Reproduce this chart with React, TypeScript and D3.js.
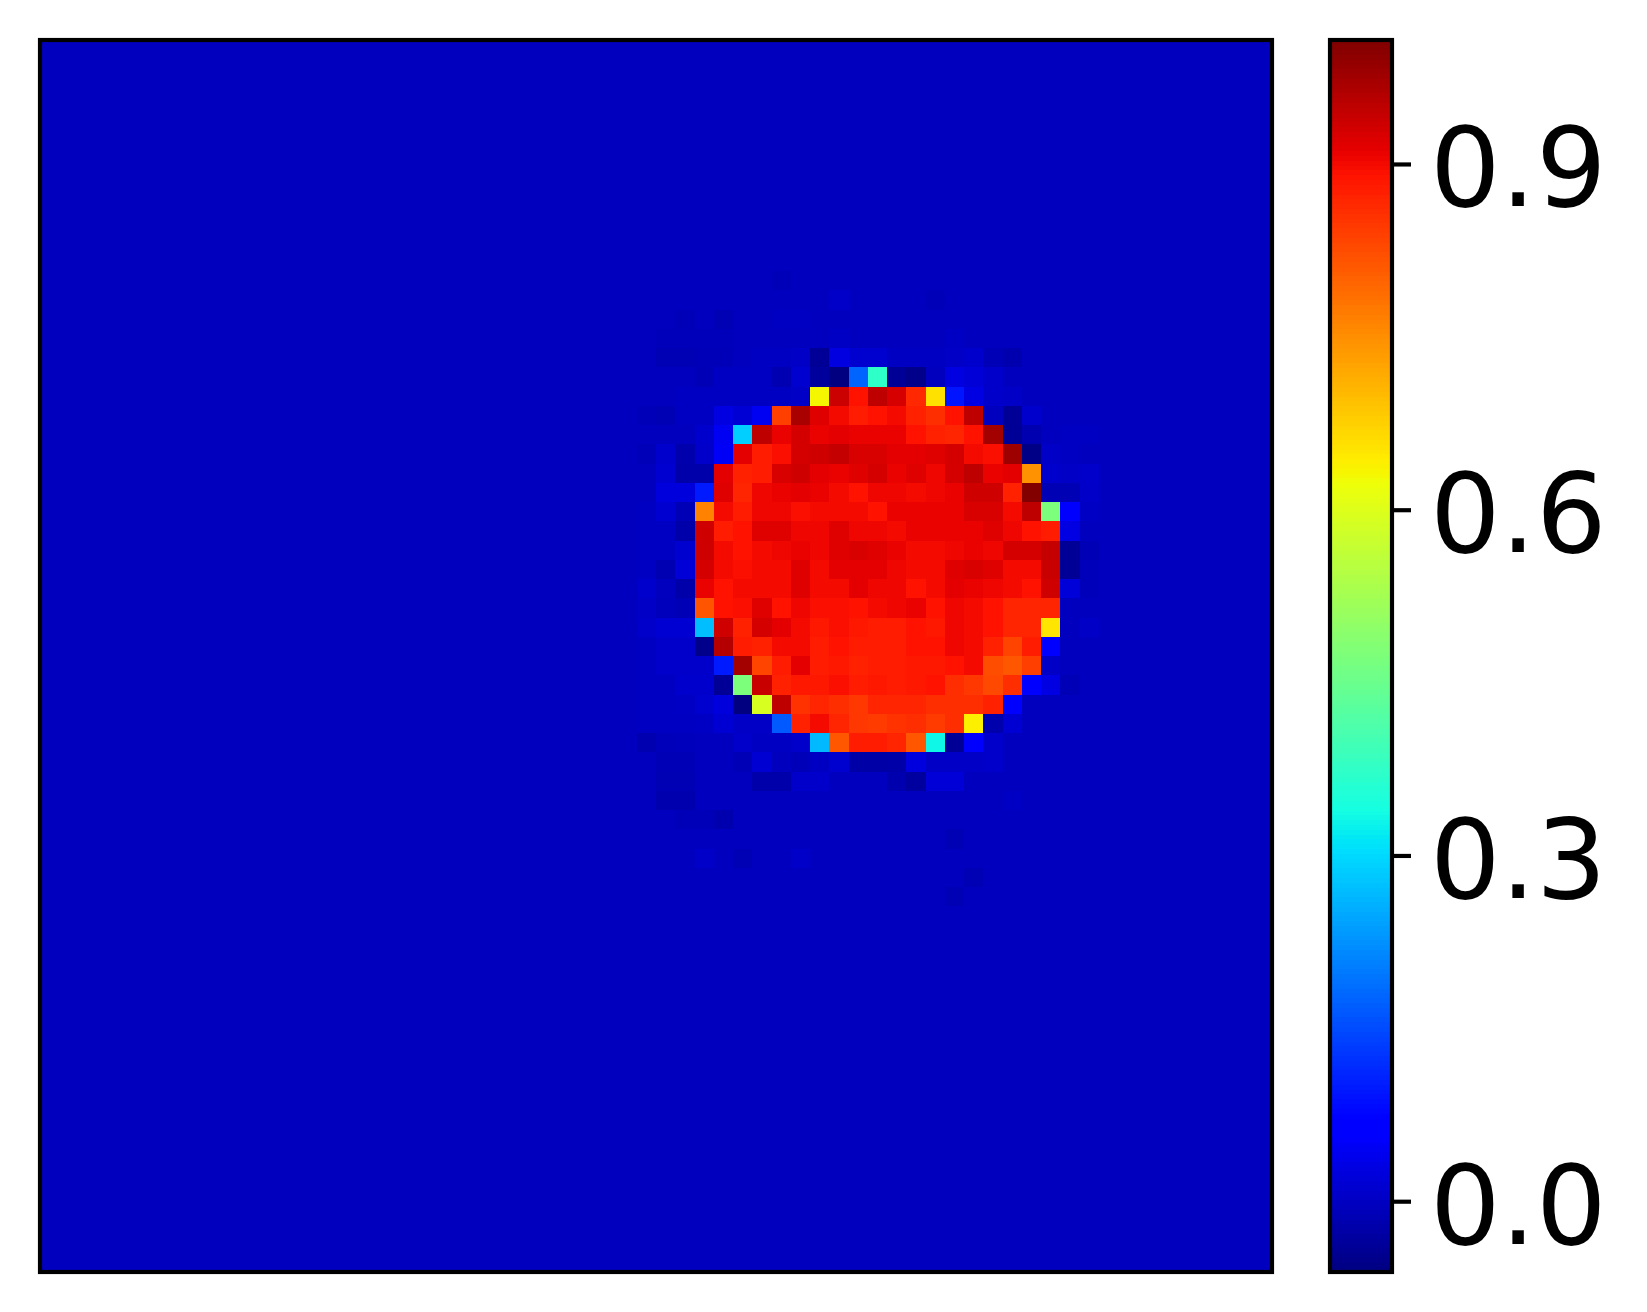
import React from "react";
import * as d3 from "d3";

const gridSize = 64;
const baseValue = -0.003;
const valueMin = -0.061;
const valueMax = 1.008;
const tickValues = [0.0, 0.3, 0.6, 0.9];
const tickLabels = ["0.0", "0.3", "0.6", "0.9"];

// Heatmap cells: rows 16..37, columns 31..54
const coreFirstRow = 16;
const coreFirstCol = 31;
const coreRows: number[][] = [
  [-.003,-.012,-.012,-.009,-.009,-.003,.001,.001,.004,-.04,.029,.012,.012,.001,.001,.001,.004,.01,-.01,-.018,-.003,-.003,-.003,-.003],
  [-.003,-.003,-.003,-.01,.001,.001,.001,-.014,.012,-.035,-.06,.177,.373,-.04,-.05,-.003,.029,.02,.008,-.003,-.003,-.003,-.003,-.003],
  [-.003,-.003,.001,.001,.001,.001,.001,.001,.004,.632,.938,.89,.949,.928,.867,.657,.094,.03,.008,.004,-.003,-.003,-.003,-.003],
  [-.009,-.012,.001,.001,.028,.018,.045,.84,.97,.92,.9,.88,.89,.9,.875,.86,.89,.95,-.003,-.04,.01,-.003,-.003,-.003],
  [-.003,-.003,-.003,.01,.045,.29,.95,.91,.93,.91,.915,.91,.91,.91,.89,.875,.87,.89,.975,-.04,-.015,-.003,.001,.001],
  [-.009,.01,-.02,.008,.048,.915,.88,.895,.93,.935,.945,.925,.925,.915,.915,.92,.93,.9,.895,.98,-.055,.004,.001,-.003],
  [-.003,.014,-.022,-.022,.915,.875,.88,.925,.935,.915,.91,.92,.93,.91,.92,.905,.93,.95,.91,.915,.747,.01,.004,.008],
  [-.003,.024,.024,.1,.92,.87,.905,.91,.915,.91,.9,.89,.905,.905,.9,.905,.91,.935,.935,.875,1.005,-.013,-.013,.006],
  [.001,.014,-.01,.764,.9,.88,.905,.905,.895,.9,.9,.9,.89,.91,.91,.91,.91,.925,.925,.9,.95,.474,.065,.002],
  [.001,.001,-.022,.935,.88,.89,.92,.92,.905,.905,.92,.905,.905,.9,.91,.91,.91,.91,.92,.905,.89,.88,.03,-.003],
  [.001,.001,.012,.935,.9,.89,.9,.905,.91,.905,.92,.925,.92,.91,.9,.9,.905,.91,.905,.93,.93,.945,-.04,-.01],
  [.001,-.014,.02,.93,.9,.895,.9,.9,.92,.9,.915,.915,.915,.905,.9,.9,.92,.925,.92,.9,.9,.94,-.04,-.007],
  [.01,-.003,-.022,.91,.89,.9,.9,.9,.92,.9,.9,.915,.905,.905,.89,.9,.915,.91,.905,.9,.89,.935,.022,-.007],
  [.004,-.005,-.01,.817,.89,.895,.92,.89,.905,.895,.895,.89,.9,.905,.91,.89,.905,.9,.89,.87,.87,.87,-.003,-.003],
  [.008,.016,.016,.272,.935,.875,.93,.915,.9,.885,.895,.885,.88,.88,.89,.885,.905,.9,.89,.87,.87,.652,-.003,.004],
  [.001,.008,.008,-.05,.96,.88,.875,.9,.9,.88,.89,.88,.88,.88,.89,.89,.905,.9,.875,.835,.88,.065,-.003,-.003],
  [.001,.008,.008,.008,.1,.975,.835,.88,.915,.88,.885,.875,.88,.88,.885,.885,.89,.9,.825,.815,.84,.004,-.003,-.003],
  [.001,.001,.01,.01,-.04,.474,.94,.875,.885,.885,.895,.88,.885,.88,.885,.89,.86,.85,.83,.86,.065,.03,-.01,-.003],
  [.001,.001,.003,.012,.024,-.06,.592,.95,.855,.87,.86,.85,.87,.87,.87,.86,.86,.86,.875,.065,-.003,-.003,-.003,-.003],
  [.001,.001,.001,.003,.016,.004,.004,.167,.875,.9,.87,.85,.845,.855,.86,.845,.86,.64,-.02,.016,-.003,-.003,-.003,-.003],
  [-.016,-.007,-.005,-.003,-.003,.008,.001,.001,.008,.266,.815,.88,.88,.87,.815,.333,-.04,.065,.008,-.003,-.003,-.003,-.003,-.003],
  [-.003,-.011,-.011,-.003,-.003,-.011,.016,-.003,-.009,.001,.012,-.025,-.025,-.024,.026,.004,.004,.004,.008,-.003,-.003,-.003,-.003,-.003],
];

// Faint halo cells above and below the disc
const faintRows = [12,13,13,14,14,14,14,15,15,15,15,15,15,38,38,38,38,38,38,38,38,38,38,39,39,39,40,40,40,41,42,42,42,43,44];
const faintCols = [38,41,46,33,35,38,39,32,33,34,35,41,47,32,33,37,38,39,40,44,45,46,47,32,33,50,33,34,35,47,34,36,39,48,47];
const faintValues = [-.008,.006,-.008,-.008,-.012,.001,.001,-.007,-.007,-.007,-.007,.002,.002,-.012,-.012,-.022,-.022,.008,.008,-.018,-.032,.02,.02,-.018,-.018,.002,-.008,-.008,-.018,-.012,.006,-.012,.006,-.012,-.012];

// matplotlib "jet" segment breakpoints
const jetRedStops = [0, 0.35, 0.66, 0.89, 1];
const jetRedLevels = [0, 0, 1, 1, 0.5];
const jetGreenStops = [0, 0.125, 0.375, 0.64, 0.91, 1];
const jetGreenLevels = [0, 0, 1, 1, 0, 0];
const jetBlueStops = [0, 0.11, 0.34, 0.65, 1];
const jetBlueLevels = [0.5, 1, 1, 0, 0];

const jetRed = d3.scaleLinear<number>().domain(jetRedStops).range(jetRedLevels);
const jetGreen = d3.scaleLinear<number>().domain(jetGreenStops).range(jetGreenLevels);
const jetBlue = d3.scaleLinear<number>().domain(jetBlueStops).range(jetBlueLevels);
const normalise = d3.scaleLinear().domain([valueMin, valueMax]).range([0, 1]).clamp(true);
const colorOf = (v: number) => {
  const t = normalise(v);
  return d3.rgb(jetRed(t) * 255, jetGreen(t) * 255, jetBlue(t) * 255).formatRgb();
};

const plotLeft = 40;
const plotTop = 40;
const plotSize = 1232;
const barLeft = 1330;
const barRight = 1392;
const strokeW = 4.17;

const indices = d3.range(gridSize);
const xBand = d3.scaleBand<number>().domain(indices).range([plotLeft, plotLeft + plotSize]);
const yBand = d3.scaleBand<number>().domain(indices).range([plotTop, plotTop + plotSize]);
const barY = d3.scaleLinear().domain([valueMin, valueMax]).range([plotTop + plotSize, plotTop]);

const grid: number[][] = indices.map(() => indices.map(() => baseValue));
faintRows.forEach((r, i) => { grid[r][faintCols[i]] = faintValues[i]; });
coreRows.forEach((row, r) => row.forEach((v, c) => { grid[coreFirstRow + r][coreFirstCol + c] = v; }));

const barLevels = d3.range(256).map((i) => valueMin + ((i + 0.5) / 256) * (valueMax - valueMin));
const barStep = (valueMax - valueMin) / 256;

export default function App() {
  return (
    <svg
      width={1647}
      height={1312}
      viewBox="0 0 1647 1312"
      style={{ position: "absolute", left: 0, top: 0, display: "block", background: "#fff" }}
    >
      <g shapeRendering="crispEdges">
        {grid.map((row, r) =>
          row.map((v, c) => (
            <rect
              key={`${r}-${c}`}
              x={xBand(c)}
              y={yBand(r)}
              width={xBand.bandwidth() + 0.5}
              height={yBand.bandwidth() + 0.5}
              fill={colorOf(v)}
            />
          ))
        )}
        {barLevels.map((v, i) => (
          <rect
            key={i}
            x={barLeft}
            y={barY(v + barStep / 2)}
            width={barRight - barLeft}
            height={barY(v - barStep / 2) - barY(v + barStep / 2) + 0.5}
            fill={colorOf(v)}
          />
        ))}
      </g>
      <rect x={plotLeft} y={plotTop} width={plotSize} height={plotSize} fill="none" stroke="#000" strokeWidth={strokeW} />
      <rect x={barLeft} y={plotTop} width={barRight - barLeft} height={plotSize} fill="none" stroke="#000" strokeWidth={strokeW} />
      {tickValues.map((t, i) => (
        <g key={t}>
          <line x1={barRight} x2={barRight + 19} y1={barY(t)} y2={barY(t)} stroke="#000" strokeWidth={strokeW} />
          <text
            x={1430}
            y={barY(t) + 42}
            fontFamily="'DejaVu Sans'"
            fontSize={111}
            fill="#000"
          >
            {tickLabels[i]}
          </text>
        </g>
      ))}
    </svg>
  );
}
